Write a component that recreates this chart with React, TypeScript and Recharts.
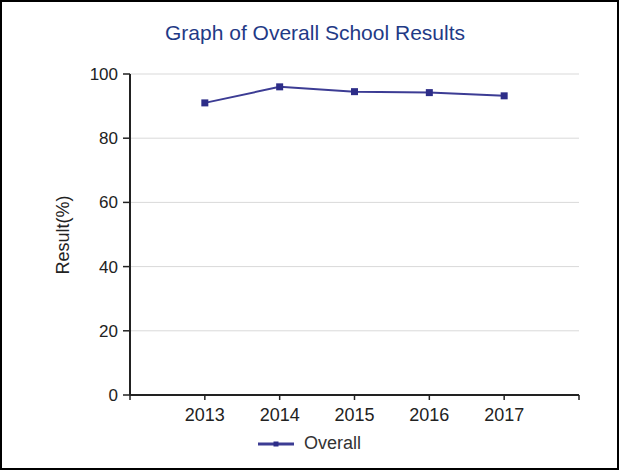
import { CartesianGrid, Legend, Line, LineChart, XAxis, YAxis } from "recharts";

const years = [2013, 2014, 2015, 2016, 2017];
const overall = [91, 96, 94.5, 94.2, 93.2];
const xTicks = [2012, 2013, 2014, 2015, 2016, 2017, 2018];
const yTicks = [0, 20, 40, 60, 80, 100];

const TITLE = "Graph of Overall School Results";
const SERIES_NAME = "Overall";
const Y_LABEL = "Result(%)";

const LINE_COLOR = "#3c3c94";
const MARKER_COLOR = "#2d2d88";
const TITLE_COLOR = "#1f3a86";
const FONT = "'Liberation Sans', Arial, sans-serif";

const data = years.map((year, i) => ({ year, overall: overall[i] }));

// Chart sits inside a 2px frame, so it is 615 x 466.
const W = 615;
const H = 466;

function SquareDot(props: { cx?: number; cy?: number; index?: number }) {
  const { cx, cy, index } = props;
  if (cx == null || cy == null) return null;
  return <rect key={index} x={cx - 3.5} y={cy - 3.5} width={7} height={7} fill={MARKER_COLOR} />;
}

function LegendContent() {
  return (
    <div
      style={{
        display: "flex",
        justifyContent: "center",
        alignItems: "center",
        fontFamily: FONT,
        fontSize: 18,
        color: "#333",
      }}
    >
      <svg width={36} height={10} style={{ marginRight: 10 }}>
        <line x1={0} y1={5} x2={36} y2={5} stroke={LINE_COLOR} strokeWidth={3} />
        <rect x={15.5} y={2.5} width={5} height={5} fill={MARKER_COLOR} />
      </svg>
      <span>{SERIES_NAME}</span>
    </div>
  );
}

export default function App() {
  return (
    <div
      style={{
        position: "absolute",
        top: 0,
        left: 0,
        width: 619,
        height: 470,
        boxSizing: "border-box",
        border: "2px solid #000",
        background: "#fff",
      }}
    >
      <LineChart width={W} height={H} data={data} margin={{ top: 72, right: 38, bottom: 38, left: 20 }}>
        <text
          x={313}
          y={30}
          textAnchor="middle"
          dominantBaseline="central"
          fill={TITLE_COLOR}
          style={{ fontFamily: FONT, fontSize: 21 }}
        >
          {TITLE}
        </text>
        <CartesianGrid vertical={false} stroke="#d9d9d9" />
        <XAxis
          dataKey="year"
          type="number"
          domain={[2012, 2018]}
          ticks={xTicks}
          tickFormatter={(v: number) => (v === 2012 || v === 2018 ? "" : String(v))}
          height={35}
          tickSize={5}
          tickMargin={8}
          axisLine={{ stroke: "#222", strokeWidth: 2 }}
          tickLine={{ stroke: "#222", strokeWidth: 1.5 }}
          tick={{ fill: "#222", fontSize: 18, fontFamily: FONT }}
        />
        <YAxis
          domain={[0, 100]}
          ticks={yTicks}
          width={108}
          tickSize={7}
          tickMargin={5}
          axisLine={{ stroke: "#222", strokeWidth: 2 }}
          tickLine={{ stroke: "#222", strokeWidth: 1.5 }}
          tick={{ fill: "#222", fontSize: 17, fontFamily: FONT }}
          label={{
            content: () => (
              <text
                x={61}
                y={233}
                transform="rotate(-90 61 233)"
                textAnchor="middle"
                dominantBaseline="central"
                fill="#222"
                style={{ fontFamily: FONT, fontSize: 18 }}
              >
                {Y_LABEL}
              </text>
            ),
          }}
        />
        <Legend
          layout="vertical"
          verticalAlign="middle"
          align="center"
          content={<LegendContent />}
          wrapperStyle={{ position: "absolute", top: 431, left: 0, width: W }}
        />
        <Line
          dataKey="overall"
          name={SERIES_NAME}
          stroke={LINE_COLOR}
          strokeWidth={2}
          dot={<SquareDot />}
          activeDot={false}
          isAnimationActive={false}
        />
      </LineChart>
    </div>
  );
}
